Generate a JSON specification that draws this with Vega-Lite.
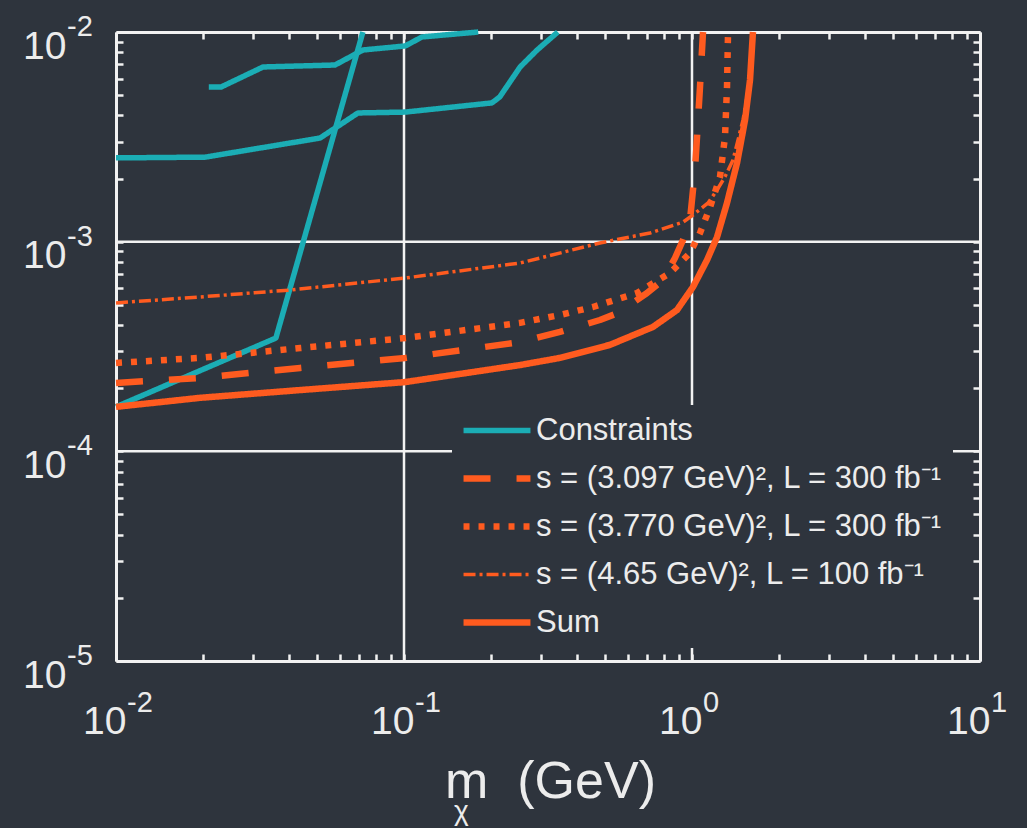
{
  "$schema": "https://vega.github.io/schema/vega-lite/v6.json",
  "width": 864,
  "height": 629,
  "autosize": {"type": "none"},
  "padding": {"left": 116, "top": 32, "right": 47, "bottom": 167},
  "background": "#2e343d",
  "title": {
    "text": "χ",
    "orient": "bottom",
    "anchor": "start",
    "frame": "group",
    "offset": -9,
    "dx": 338,
    "font": "Liberation Sans",
    "fontSize": 28,
    "fontWeight": "normal",
    "color": "#ececec",
    "baseline": "top"
  },
  "config": {
    "view": {"stroke": null},
    "axis": {
      "domainColor": "#f2f2f2",
      "domainWidth": 3,
      "tickColor": "#f2f2f2",
      "tickWidth": 2.5,
      "tickSize": -7,
      "grid": false,
      "labelFont": "Liberation Sans",
      "labelFontSize": 39,
      "labelColor": "#ececec",
      "labelOverlap": false,
      "labelFlush": false,
      "labelBound": false,
      "title": null
    },
    "legend": {
      "orient": "none",
      "legendX": 336,
      "legendY": 373,
      "fillColor": "#2e343d",
      "padding": 10,
      "symbolType": "M-1.67,0H6.33",
      "symbolSize": 280,
      "labelFont": "Liberation Sans",
      "labelFontSize": 31,
      "labelColor": "#ececec",
      "labelOffset": 43,
      "labelLimit": 700,
      "rowPadding": 16,
      "title": null
    }
  },
  "datasets": {
    "curves": [
      {"series": "Constraints", "part": "c1", "m": 0.0210, "g": 0.00547},
      {"series": "Constraints", "part": "c1", "m": 0.0232, "g": 0.00547},
      {"series": "Constraints", "part": "c1", "m": 0.0324, "g": 0.00681},
      {"series": "Constraints", "part": "c1", "m": 0.0576, "g": 0.00696},
      {"series": "Constraints", "part": "c1", "m": 0.0721, "g": 0.00821},
      {"series": "Constraints", "part": "c1", "m": 0.101, "g": 0.00858},
      {"series": "Constraints", "part": "c1", "m": 0.1155, "g": 0.00947},
      {"series": "Constraints", "part": "c1", "m": 0.181, "g": 0.0100},
      {"series": "Constraints", "part": "c2", "m": 0.0100, "g": 0.00251},
      {"series": "Constraints", "part": "c2", "m": 0.0204, "g": 0.00253},
      {"series": "Constraints", "part": "c2", "m": 0.0511, "g": 0.00312},
      {"series": "Constraints", "part": "c2", "m": 0.0692, "g": 0.00411},
      {"series": "Constraints", "part": "c2", "m": 0.101, "g": 0.00415},
      {"series": "Constraints", "part": "c2", "m": 0.202, "g": 0.00459},
      {"series": "Constraints", "part": "c2", "m": 0.215, "g": 0.00490},
      {"series": "Constraints", "part": "c2", "m": 0.253, "g": 0.00681},
      {"series": "Constraints", "part": "c2", "m": 0.290, "g": 0.00821},
      {"series": "Constraints", "part": "c2", "m": 0.342, "g": 0.0100},
      {"series": "Constraints", "part": "c3", "m": 0.0100, "g": 0.000163},
      {"series": "Constraints", "part": "c3", "m": 0.0359, "g": 0.000347},
      {"series": "Constraints", "part": "c3", "m": 0.0720, "g": 0.0100},
      {"series": "s = (3.097 GeV)², L = 300 fb⁻¹", "part": "d", "m": 0.0100, "g": 0.000212},
      {"series": "s = (3.097 GeV)², L = 300 fb⁻¹", "part": "d", "m": 0.0196, "g": 0.000224},
      {"series": "s = (3.097 GeV)², L = 300 fb⁻¹", "part": "d", "m": 0.0436, "g": 0.000250},
      {"series": "s = (3.097 GeV)², L = 300 fb⁻¹", "part": "d", "m": 0.101, "g": 0.000279},
      {"series": "s = (3.097 GeV)², L = 300 fb⁻¹", "part": "d", "m": 0.253, "g": 0.000332},
      {"series": "s = (3.097 GeV)², L = 300 fb⁻¹", "part": "d", "m": 0.348, "g": 0.000371},
      {"series": "s = (3.097 GeV)², L = 300 fb⁻¹", "part": "d", "m": 0.479, "g": 0.000423},
      {"series": "s = (3.097 GeV)², L = 300 fb⁻¹", "part": "d", "m": 0.554, "g": 0.000457},
      {"series": "s = (3.097 GeV)², L = 300 fb⁻¹", "part": "d", "m": 0.698, "g": 0.000569},
      {"series": "s = (3.097 GeV)², L = 300 fb⁻¹", "part": "d", "m": 0.793, "g": 0.000657},
      {"series": "s = (3.097 GeV)², L = 300 fb⁻¹", "part": "d", "m": 0.873, "g": 0.000836},
      {"series": "s = (3.097 GeV)², L = 300 fb⁻¹", "part": "d", "m": 0.931, "g": 0.00102},
      {"series": "s = (3.097 GeV)², L = 300 fb⁻¹", "part": "d", "m": 0.984, "g": 0.00127},
      {"series": "s = (3.097 GeV)², L = 300 fb⁻¹", "part": "d", "m": 1.000, "g": 0.00158},
      {"series": "s = (3.097 GeV)², L = 300 fb⁻¹", "part": "d", "m": 1.024, "g": 0.00220},
      {"series": "s = (3.097 GeV)², L = 300 fb⁻¹", "part": "d", "m": 1.041, "g": 0.00316},
      {"series": "s = (3.097 GeV)², L = 300 fb⁻¹", "part": "d", "m": 1.066, "g": 0.00547},
      {"series": "s = (3.097 GeV)², L = 300 fb⁻¹", "part": "d", "m": 1.092, "g": 0.0100},
      {"series": "s = (3.770 GeV)², L = 300 fb⁻¹", "part": "e", "m": 0.0100, "g": 0.000264},
      {"series": "s = (3.770 GeV)², L = 300 fb⁻¹", "part": "e", "m": 0.0196, "g": 0.000279},
      {"series": "s = (3.770 GeV)², L = 300 fb⁻¹", "part": "e", "m": 0.0436, "g": 0.000311},
      {"series": "s = (3.770 GeV)², L = 300 fb⁻¹", "part": "e", "m": 0.101, "g": 0.000347},
      {"series": "s = (3.770 GeV)², L = 300 fb⁻¹", "part": "e", "m": 0.253, "g": 0.000410},
      {"series": "s = (3.770 GeV)², L = 300 fb⁻¹", "part": "e", "m": 0.348, "g": 0.000447},
      {"series": "s = (3.770 GeV)², L = 300 fb⁻¹", "part": "e", "m": 0.453, "g": 0.000488},
      {"series": "s = (3.770 GeV)², L = 300 fb⁻¹", "part": "e", "m": 0.644, "g": 0.000569},
      {"series": "s = (3.770 GeV)², L = 300 fb⁻¹", "part": "e", "m": 0.839, "g": 0.000709},
      {"series": "s = (3.770 GeV)², L = 300 fb⁻¹", "part": "e", "m": 0.984, "g": 0.000883},
      {"series": "s = (3.770 GeV)², L = 300 fb⁻¹", "part": "e", "m": 1.066, "g": 0.00110},
      {"series": "s = (3.770 GeV)², L = 300 fb⁻¹", "part": "e", "m": 1.155, "g": 0.00146},
      {"series": "s = (3.770 GeV)², L = 300 fb⁻¹", "part": "e", "m": 1.251, "g": 0.00204},
      {"series": "s = (3.770 GeV)², L = 300 fb⁻¹", "part": "e", "m": 1.302, "g": 0.00316},
      {"series": "s = (3.770 GeV)², L = 300 fb⁻¹", "part": "e", "m": 1.323, "g": 0.00547},
      {"series": "s = (3.770 GeV)², L = 300 fb⁻¹", "part": "e", "m": 1.334, "g": 0.0100},
      {"series": "s = (4.65 GeV)², L = 100 fb⁻¹", "part": "f", "m": 0.0100, "g": 0.000510},
      {"series": "s = (4.65 GeV)², L = 100 fb⁻¹", "part": "f", "m": 0.0196, "g": 0.000545},
      {"series": "s = (4.65 GeV)², L = 100 fb⁻¹", "part": "f", "m": 0.0402, "g": 0.000588},
      {"series": "s = (4.65 GeV)², L = 100 fb⁻¹", "part": "f", "m": 0.101, "g": 0.000671},
      {"series": "s = (4.65 GeV)², L = 100 fb⁻¹", "part": "f", "m": 0.253, "g": 0.000791},
      {"series": "s = (4.65 GeV)², L = 100 fb⁻¹", "part": "f", "m": 0.479, "g": 0.000986},
      {"series": "s = (4.65 GeV)², L = 100 fb⁻¹", "part": "f", "m": 0.715, "g": 0.00110},
      {"series": "s = (4.65 GeV)², L = 100 fb⁻¹", "part": "f", "m": 0.931, "g": 0.00124},
      {"series": "s = (4.65 GeV)², L = 100 fb⁻¹", "part": "f", "m": 1.008, "g": 0.00134},
      {"series": "s = (4.65 GeV)², L = 100 fb⁻¹", "part": "f", "m": 1.137, "g": 0.00153},
      {"series": "s = (4.65 GeV)², L = 100 fb⁻¹", "part": "f", "m": 1.221, "g": 0.00176},
      {"series": "s = (4.65 GeV)², L = 100 fb⁻¹", "part": "f", "m": 1.302, "g": 0.00204},
      {"series": "s = (4.65 GeV)², L = 100 fb⁻¹", "part": "f", "m": 1.388, "g": 0.00245},
      {"series": "s = (4.65 GeV)², L = 100 fb⁻¹", "part": "f", "m": 1.503, "g": 0.00380},
      {"series": "s = (4.65 GeV)², L = 100 fb⁻¹", "part": "f", "m": 1.590, "g": 0.00590},
      {"series": "s = (4.65 GeV)², L = 100 fb⁻¹", "part": "f", "m": 1.628, "g": 0.0100},
      {"series": "Sum", "part": "s", "m": 0.0100, "g": 0.000163},
      {"series": "Sum", "part": "s", "m": 0.0196, "g": 0.000180},
      {"series": "Sum", "part": "s", "m": 0.0436, "g": 0.000196},
      {"series": "Sum", "part": "s", "m": 0.101, "g": 0.000214},
      {"series": "Sum", "part": "s", "m": 0.253, "g": 0.000258},
      {"series": "Sum", "part": "s", "m": 0.348, "g": 0.000279},
      {"series": "Sum", "part": "s", "m": 0.519, "g": 0.000322},
      {"series": "Sum", "part": "s", "m": 0.732, "g": 0.000392},
      {"series": "Sum", "part": "s", "m": 0.887, "g": 0.000472},
      {"series": "Sum", "part": "s", "m": 1.008, "g": 0.000608},
      {"series": "Sum", "part": "s", "m": 1.128, "g": 0.000818},
      {"series": "Sum", "part": "s", "m": 1.221, "g": 0.00105},
      {"series": "Sum", "part": "s", "m": 1.323, "g": 0.00153},
      {"series": "Sum", "part": "s", "m": 1.433, "g": 0.00237},
      {"series": "Sum", "part": "s", "m": 1.528, "g": 0.00380},
      {"series": "Sum", "part": "s", "m": 1.590, "g": 0.00590},
      {"series": "Sum", "part": "s", "m": 1.628, "g": 0.0100}
    ],
    "xgrid": [{"v": 0.1}, {"v": 1}],
    "ygrid": [{"v": 0.001}, {"v": 0.0001}],
    "xexp": [{"v": 0.01, "e": "-2"}, {"v": 0.1, "e": "-1"}, {"v": 1, "e": "0"}, {"v": 10, "e": "1"}],
    "yexp": [{"v": 0.01, "e": "-2"}, {"v": 0.001, "e": "-3"}, {"v": 0.0001, "e": "-4"}, {"v": 0.00001, "e": "-5"}]
  },
  "layer": [
    {
      "data": {"name": "xgrid"},
      "mark": {"type": "rule", "color": "#f2f2f2", "strokeWidth": 2.5},
      "encoding": {
        "x": {
          "field": "v",
          "type": "quantitative",
          "scale": {"type": "log", "domain": [0.01, 10], "nice": false},
          "axis": {
            "orient": "top",
            "labels": false,
            "values": [0.01, 0.02, 0.03, 0.04, 0.05, 0.06, 0.07, 0.08, 0.09, 0.1, 0.2, 0.3, 0.4, 0.5, 0.6, 0.7, 0.8, 0.9, 1, 2, 3, 4, 5, 6, 7, 8, 9, 10]
          }
        }
      }
    },
    {
      "data": {"name": "ygrid"},
      "mark": {"type": "rule", "color": "#f2f2f2", "strokeWidth": 2.5},
      "encoding": {
        "y": {
          "field": "v",
          "type": "quantitative",
          "scale": {"type": "log", "domain": [0.00001, 0.01], "nice": false},
          "axis": {
            "orient": "right",
            "labels": false,
            "values": [0.00001, 0.00002, 0.00003, 0.00004, 0.00005, 0.00006, 0.00007, 0.00008, 0.00009, 0.0001, 0.0002, 0.0003, 0.0004, 0.0005, 0.0006, 0.0007, 0.0008, 0.0009, 0.001, 0.002, 0.003, 0.004, 0.005, 0.006, 0.007, 0.008, 0.009, 0.01]
          }
        }
      }
    },
    {
      "data": {"name": "curves"},
      "mark": {"type": "line", "strokeCap": "butt", "strokeJoin": "round"},
      "encoding": {
        "x": {
          "field": "m",
          "type": "quantitative",
          "scale": {"type": "log", "domain": [0.01, 10], "nice": false},
          "axis": {
            "orient": "bottom",
            "values": [0.01, 0.02, 0.03, 0.04, 0.05, 0.06, 0.07, 0.08, 0.09, 0.1, 0.2, 0.3, 0.4, 0.5, 0.6, 0.7, 0.8, 0.9, 1, 2, 3, 4, 5, 6, 7, 8, 9, 10],
            "labelExpr": "abs(log(datum.value)/LN10 - round(log(datum.value)/LN10)) < 0.01 ? '10' : ''",
            "labelAlign": "right",
            "labelBaseline": "alphabetic",
            "labelOffset": 10,
            "labelPadding": 79,
            "title": "m\u00a0\u00a0(GeV)",
            "titleFont": "Liberation Sans",
            "titleFontSize": 52,
            "titleFontWeight": "normal",
            "titleColor": "#ececec",
            "titleAlign": "center",
            "titleBaseline": "alphabetic",
            "titleX": 434,
            "titleY": 136
          }
        },
        "y": {
          "field": "g",
          "type": "quantitative",
          "scale": {"type": "log", "domain": [0.00001, 0.01], "nice": false},
          "axis": {
            "orient": "left",
            "values": [0.00001, 0.00002, 0.00003, 0.00004, 0.00005, 0.00006, 0.00007, 0.00008, 0.00009, 0.0001, 0.0002, 0.0003, 0.0004, 0.0005, 0.0006, 0.0007, 0.0008, 0.0009, 0.001, 0.002, 0.003, 0.004, 0.005, 0.006, 0.007, 0.008, 0.009, 0.01],
            "labelExpr": "abs(log(datum.value)/LN10 - round(log(datum.value)/LN10)) < 0.01 ? '10' : ''",
            "labelAlign": "right",
            "labelBaseline": "alphabetic",
            "labelOffset": 26,
            "labelPadding": 57
          }
        },
        "detail": {"field": "part"},
        "color": {
          "field": "series",
          "type": "nominal",
          "scale": {
            "domain": ["Constraints", "s = (3.097 GeV)², L = 300 fb⁻¹", "s = (3.770 GeV)², L = 300 fb⁻¹", "s = (4.65 GeV)², L = 100 fb⁻¹", "Sum"],
            "range": ["#1badb5", "#ff5b1f", "#ff5b1f", "#ff5b1f", "#ff5b1f"]
          },
          "legend": {"orient": "none", "legendX": 336, "legendY": 373}
        },
        "strokeDash": {
          "field": "series",
          "type": "nominal",
          "scale": {
            "domain": ["Constraints", "s = (3.097 GeV)², L = 300 fb⁻¹", "s = (3.770 GeV)², L = 300 fb⁻¹", "s = (4.65 GeV)², L = 100 fb⁻¹", "Sum"],
            "range": [[1, 0], [27, 26], [6, 9], [12, 4, 3, 4], [1, 0]]
          }
        },
        "strokeWidth": {
          "field": "series",
          "type": "nominal",
          "scale": {
            "type": "ordinal",
            "domain": ["Constraints", "s = (3.097 GeV)², L = 300 fb⁻¹", "s = (3.770 GeV)², L = 300 fb⁻¹", "s = (4.65 GeV)², L = 100 fb⁻¹", "Sum"],
            "range": [5.5, 6.5, 6.5, 3.5, 6.5]
          }
        }
      }
    },
    {
      "data": {"name": "xexp"},
      "mark": {"type": "text", "align": "left", "baseline": "alphabetic", "dx": 11, "dy": 51, "font": "Liberation Sans", "fontSize": 29, "color": "#ececec"},
      "encoding": {
        "x": {"field": "v", "type": "quantitative", "scale": {"type": "log", "domain": [0.01, 10], "nice": false}, "axis": null},
        "y": {"datum": 0.00001, "type": "quantitative", "scale": {"type": "log", "domain": [0.00001, 0.01], "nice": false}, "axis": null},
        "text": {"field": "e"}
      }
    },
    {
      "data": {"name": "yexp"},
      "mark": {"type": "text", "align": "left", "baseline": "alphabetic", "dx": -49, "dy": 4, "font": "Liberation Sans", "fontSize": 29, "color": "#ececec"},
      "encoding": {
        "x": {"datum": 0.01, "type": "quantitative", "scale": {"type": "log", "domain": [0.01, 10], "nice": false}, "axis": null},
        "y": {"field": "v", "type": "quantitative", "scale": {"type": "log", "domain": [0.00001, 0.01], "nice": false}, "axis": null},
        "text": {"field": "e"}
      }
    }
  ],
  "resolve": {
    "scale": {"x": "shared", "y": "shared"},
    "axis": {"x": "independent", "y": "independent"}
  }
}
